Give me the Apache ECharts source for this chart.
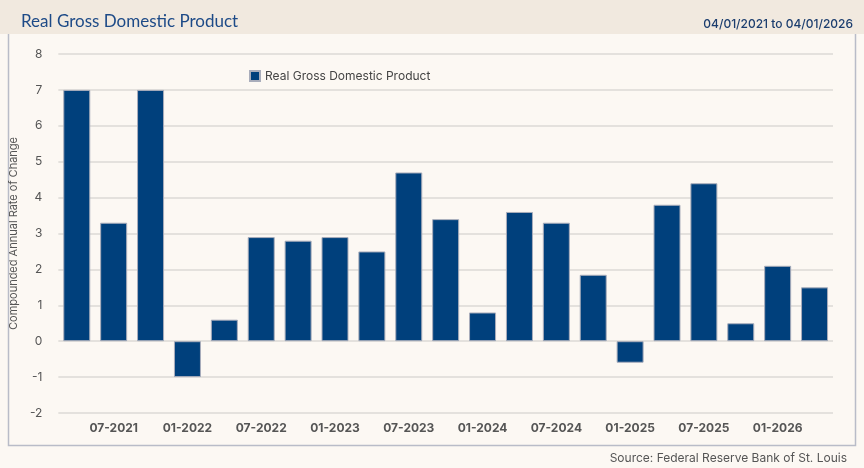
<!DOCTYPE html>
<html>
<head>
<meta charset="utf-8">
<script src="https://cdn.jsdelivr.net/npm/echarts@6/dist/echarts.min.js"></script>
<style>
  html, body { margin: 0; padding: 0; background: #fcf8f3; }
  #main { width: 864px; height: 468px; }
</style>
</head>
<body>
<div id="main"></div>
<script>
var main = echarts.init(document.getElementById('main'));

// quarters, 04/01/2021 to 04/01/2026
var quarters = ['04-2021', '07-2021', '10-2021', '01-2022', '04-2022', '07-2022', '10-2022',
	'01-2023', '04-2023', '07-2023', '10-2023', '01-2024', '04-2024', '07-2024', '10-2024',
	'01-2025', '04-2025', '07-2025', '10-2025', '01-2026', '04-2026'];
// compounded annual rate of change
var gdp = [7.0, 3.3, 7.0, -1.0, 0.6, 2.9, 2.8, 2.9, 2.5, 4.7, 3.4, 0.8, 3.6, 3.3, 1.85,
	-0.6, 3.8, 4.4, 0.5, 2.1, 1.5];
var yTicks = [-2, -1, 0, 1, 2, 3, 4, 5, 6, 7, 8];

var font = 'Inter, "Noto Sans", sans-serif';

option = {
	backgroundColor: '#fcf8f3',
	graphic: [
		{
			type: 'rect',
			shape: { x: 0, y: 0, width: 864, height: 34 },
			style: { fill: '#f1e9df' },
			silent: true
		},
		{
			type: 'polyline',
			shape: { points: [[8.5, 34], [8.5, 445.5], [855.5, 445.5], [855.5, 34]] },
			style: { stroke: '#b9bcc8', lineWidth: 1.5, fill: null },
			silent: true
		}
	],
	title: [
		{
			text: 'Real Gross Domestic Product',
			left: 16,
			top: 8,
			textStyle: { color: '#1d4a87', fontSize: 17, fontWeight: 'normal', fontFamily: 'Lato, "Open Sans", sans-serif' }
		},
		{
			text: '04/01/2021 to 04/01/2026',
			right: 6,
			top: 13,
			textStyle: { color: '#1b3d6e', fontSize: 12, fontWeight: 500, fontFamily: font }
		},
		{
			text: 'Source: Federal Reserve Bank of St. Louis',
			right: 12,
			top: 447,
			textStyle: { color: '#555555', fontSize: 12, fontWeight: 'normal', fontFamily: font }
		}
	],
	legend: {
		left: 244,
		top: 65,
		itemWidth: 10,
		itemHeight: 10,
		itemGap: 8,
		icon: 'rect',
		textStyle: { color: '#444444', fontSize: 12, fontFamily: font }
	},
	grid: {
		left: 53,
		right: 31,
		top: 54,
		bottom: 55
	},
	xAxis: {
		type: 'category',
		data: quarters,
		axisLine: { show: false },
		axisTick: { show: false },
		axisLabel: {
			interval: function (index) { return index % 2 === 1; },
			color: '#555555',
			fontSize: 12,
			fontWeight: 'bold',
			fontFamily: font,
			margin: 9
		}
	},
	yAxis: {
		type: 'value',
		min: -2,
		max: 8,
		interval: 1,
		name: 'Compounded Annual Rate of Change',
		nameLocation: 'middle',
		nameGap: 34,
		nameTextStyle: { color: '#555555', fontSize: 11, fontFamily: font },
		axisLine: { show: false },
		axisTick: { show: false },
		axisLabel: {
			color: '#555555',
			fontSize: 12,
			fontFamily: font,
			margin: 16,
			formatter: function (v) { return yTicks.indexOf(v) >= 0 ? String(v) : ''; }
		},
		splitLine: { lineStyle: { color: '#dcdad6', width: 1.5 } }
	},
	series: [{
		name: 'Real Gross Domestic Product',
		type: 'bar',
		data: gdp,
		barWidth: 27,
		itemStyle: {
			color: '#00407c',
			borderColor: '#a9adbb',
			borderWidth: 1
		}
	}]
};
main.setOption(option);
</script>
</body>
</html>
